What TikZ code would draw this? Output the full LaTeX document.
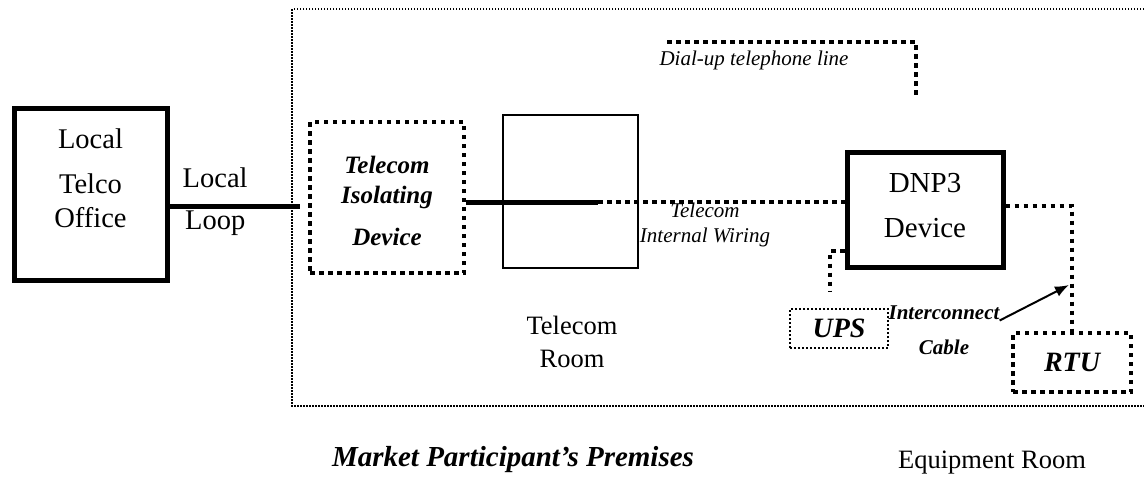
\documentclass[tikz,border=0pt]{standalone}
\usepackage{fontspec}
\setmainfont{Liberation Serif}
\usetikzlibrary{arrows.meta}
\def\setsz#1#2{\fontsize{#1}{#2}\selectfont}

\tikzset{
  heavybox/.style={draw, line width=5pt, inner sep=0pt},
  dotbox/.style={draw, line width=4pt, dash pattern=on 4.5pt off 4.5pt, inner sep=0pt},
  thindots/.style={draw, line width=2.5pt, dash pattern=on 2pt off 2pt, inner sep=0pt},
  dotline/.style={line width=4pt, dash pattern=on 4.5pt off 4.5pt},
  solidline/.style={line width=5pt},
  bi/.style={font=\setsz{#1}{#1}\bfseries\itshape}
}

\begin{document}
\begin{tikzpicture}[x=1pt,y=-1pt]
        \useasboundingbox (0,0) rectangle (1144,479);
        % premises border, open on the right
        \draw[line width=1.5pt, dash pattern=on 1.5pt off 1.5pt] (1144,9) -- (292,9) -- (292,406) -- (1144,406);
        \node[heavybox, minimum width=153pt, minimum height=172pt,
              label={[yshift=16pt,align=center,font=\setsz{28.5}{34}]center:Local\\[11pt]Telco\\Office}] (telco) at (90.5,194) {};
        \node[dotbox, minimum width=154pt, minimum height=151pt,
              label={[yshift=-3.5pt,align=center,font=\setsz{25}{30}\bfseries\itshape]center:Telecom\\Isolating\\[12pt]Device}] (isol) at (387,197.5) {};
        \node[draw, line width=1.5pt, minimum width=135pt, minimum height=153pt, inner sep=0pt] (room) at (570.5,191.5) {};
        \node[align=center, font=\setsz{26.5}{33}] (roomtxt) at (572,342) {Telecom\\Room};
        \node[heavybox, minimum width=156pt, minimum height=115pt,
              label={[yshift=4pt,align=center,font=\setsz{29}{45}]center:DNP3\\Device}] (dnp) at (925,209.5) {};
        \node[thindots, minimum width=98pt, minimum height=39pt, bi=28] (ups) at (839,328.5) {UPS};
        \node[dotbox, minimum width=118pt, minimum height=59pt, bi=28] (rtu) at (1072,362.5) {RTU};
        \node[align=center, inner sep=0pt, font=\setsz{21}{35}\bfseries\itshape] (cable) at (944,330.5) {Interconnect\\Cable};
        % local loop
        \coordinate (loopend) at (300,206);
        \draw[solidline] (telco.east |- loopend) -- (loopend)
              node[pos=0.35, yshift=28pt, font=\setsz{28.5}{28.5}] (looptop) {Local}
              node[pos=0.35, yshift=-17pt, font=\setsz{28.5}{28.5}] (loopbot) {Loop};
        % internal wiring
        \coordinate (splice) at (598,202);
        \draw[solidline] (isol.east |- splice) -- (splice);
        \draw[dotline] (splice) -- (splice -| dnp.west)
              node[pos=0.434, yshift=-23pt, align=center, font=\setsz{21}{25}\itshape] (wiretxt) {Telecom\\Internal Wiring};
        \draw[dotline] ([yshift=3.5pt]dnp.east) -| (rtu.north);
        \draw[dotline] ([yshift=-41.5pt]dnp.west) -| ([xshift=-9pt,yshift=16pt]ups.north);
        \coordinate (cabletip) at (1069,285);
        \draw[-{Latex[length=14pt,width=11pt]}, line width=2pt] ([yshift=10pt]cable.east) -- (cabletip);
        % dial-up line
        \coordinate (dialA) at (667,42);
        \coordinate (dialB) at (916,98);
        \draw[dotline] (dialA) -| (dialB);
        \node[font=\setsz{21}{21}\itshape] (dialtxt) at (754,60) {Dial-up telephone line};
        \node[bi=29] (premtxt) at (513,460) {Market Participant's Premises};
        \node[font=\setsz{26.5}{26.5}] (equiptxt) at (992,463) {Equipment Room};
\end{tikzpicture}
\end{document}
